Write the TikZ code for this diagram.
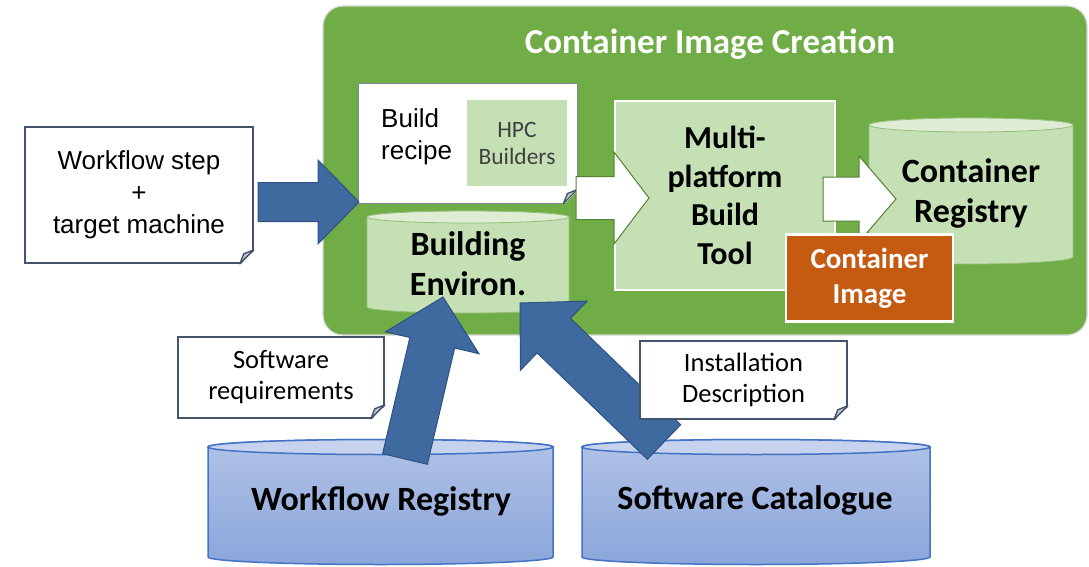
\documentclass[tikz,border=0pt]{standalone}
\usepackage{fontspec}
\setmainfont{Carlito}
\newfontfamily\arialfont{Liberation Sans}
\usetikzlibrary{calc}

\definecolor{panelgreen}{RGB}{112,173,71}
\definecolor{palegreen}{RGB}{197,224,180}
\definecolor{palegreentop}{RGB}{222,237,212}
\definecolor{cylgreenedge}{RGB}{150,190,120}
\definecolor{rust}{RGB}{197,90,17}
\definecolor{arrowblue}{RGB}{62,106,160}
\definecolor{arrowblueedge}{RGB}{47,82,130}
\definecolor{drumtop}{RGB}{199,211,238}
\definecolor{drumhigh}{RGB}{176,194,230}
\definecolor{drumlow}{RGB}{140,166,219}
\definecolor{drumedge}{RGB}{68,114,196}
\definecolor{slate}{RGB}{68,84,106}
\definecolor{flapgray}{RGB}{190,196,206}
\definecolor{arrowgreenedge}{RGB}{84,130,53}
\definecolor{labelgray}{RGB}{64,64,64}

% cylinder: centre x, top y, bottom y, x radius, y radius, body style, lid style
\newcommand\drum[7]{%
  \path[#6] ({#1-#4},{-#2}) -- ({#1-#4},{-#3})
    arc[start angle=180,end angle=360,x radius=#4,y radius=#5]
    -- ({#1+#4},{-#2})
    arc[start angle=0,end angle=180,x radius=#4,y radius=#5] -- cycle;
  \path[#7] (#1,{-#2}) ellipse[x radius=#4,y radius=#5];
}

% block arrow: style, tail, tip, shaft half width, head half width, head length
\newcommand\blockarrow[6]{%
  \path[#1] ($(#2)!#4!90:(#3)$)
    -- ($(#3)!#6!(#2)!#4!-90:(#2)$)
    -- ($(#3)!#6!(#2)!#5!-90:(#2)$)
    -- (#3)
    -- ($(#3)!#6!(#2)!#5!90:(#2)$)
    -- ($(#3)!#6!(#2)!#4!90:(#2)$)
    -- ($(#2)!#4!-90:(#3)$) -- cycle;
}

% folded corner of a note: node, colour behind the cut corner
\newcommand\noteear[2]{%
  \fill[#2] ([xshift=-14pt,yshift=-1.6pt]#1.south east) -- ([xshift=1.6pt,yshift=-1.6pt]#1.south east)
    -- ([xshift=1.6pt,yshift=14pt]#1.south east) -- cycle;
  \draw[slate,line width=1.4pt,line join=round,fill=flapgray]
    ([xshift=-14pt]#1.south east) -- ([yshift=14pt]#1.south east)
    -- ([xshift=-10pt,yshift=10pt]#1.south east) -- cycle;
}

\tikzset{
  notebox/.style={draw=slate, line width=1.6pt, fill=white, inner sep=0pt, align=center,
    font=\fontsize{26.5}{31}\selectfont},
  whitearrow/.style={fill=white, draw=arrowgreenedge, line width=1pt, line join=miter},
  bluearrow/.style={fill=arrowblue, draw=arrowblueedge, line width=1pt},
  boldlabel/.style={align=center, font=\bfseries\fontsize{34}{40}\selectfont},
  greendrum/.style={fill=palegreen, draw=cylgreenedge, line width=0.8pt},
  greenlid/.style={fill=palegreentop, draw=cylgreenedge, line width=0.8pt},
  bluedrum/.style={top color=drumhigh, bottom color=drumlow, draw=drumedge, line width=1.5pt},
  bluelid/.style={fill=drumtop, draw=drumedge, line width=1.5pt},
}

\begin{document}
\begin{tikzpicture}[x=1pt,y=1pt]
\useasboundingbox (0,0) rectangle (1089,-567);
\fill[white] (0,0) rectangle (1089,-567);

% container image creation panel
\node[draw=black!15, line width=1.2pt, fill=panelgreen, rounded corners=20pt,
  minimum width=764pt, minimum height=329pt, inner sep=0pt] (panel) at (705,-170.5) {};
\node[text=white, font=\bfseries\fontsize{35}{40}\selectfont] (title) at (710,-44) {Container Image Creation};

% build recipe with HPC builders
\node[notebox, draw=slate!70, line width=1pt, minimum width=219pt, minimum height=119pt] (recipe) at (467.5,-143.5) {};
\noteear{recipe}{panelgreen}
\node[anchor=west, align=left, inner sep=0pt, font=\arialfont\fontsize{26}{32}\selectfont] (recipetext) at (381,-137) {Build\\recipe};
\node[fill=palegreen, minimum width=100pt, minimum height=86pt, inner sep=0pt, align=center,
  text=labelgray, font=\fontsize{23.5}{27}\selectfont] (hpc) at (517,-143) {HPC\\Builders};

% building environment
\drum{468}{217}{307}{101}{6}{greendrum}{greenlid}
\node[boldlabel] (benv) at (468,-264) {Building\\Environ.};

% multi-platform build tool
\node[fill=palegreen, draw=white, line width=2pt, minimum width=220pt, minimum height=189pt, inner sep=0pt,
  boldlabel, font=\bfseries\fontsize{32}{38.5}\selectfont] (mbt) at (725,-195.5) {Multi-\\platform\\Build\\Tool};

\coordinate (a1tail) at (576,-198);
\coordinate (a1tip) at (649,-198);
\blockarrow{whitearrow}{a1tail}{a1tip}{21.5pt}{46pt}{35pt}

% container registry
\drum{971}{125}{257}{102}{7}{greendrum}{greenlid}
\node[boldlabel] (creg) at (971,-193) {Container\\Registry};

\coordinate (a2tail) at (823,-199);
\coordinate (a2tip) at (896,-199);
\blockarrow{whitearrow}{a2tail}{a2tip}{22pt}{43pt}{37pt}

\node[fill=rust, draw=white, line width=2.5pt, minimum width=167pt, minimum height=87pt, inner sep=0pt,
  text=white, align=center, font=\bfseries\fontsize{29}{35}\selectfont] (cimg) at (869.5,-278) {Container\\Image};

% workflow step input
\node[notebox, minimum width=228pt, minimum height=136pt, font=\arialfont\fontsize{26}{32}\selectfont] (wstep) at (139,-195) {Workflow step\\+\\target machine};
\noteear{wstep}{white}

\coordinate (a0tail) at (258,-202);
\coordinate (a0tip) at (359,-202);
\blockarrow{bluearrow}{a0tail}{a0tip}{19.5pt}{42pt}{41pt}

% registries at the bottom
\drum{380.5}{447}{557}{172.5}{7.5}{bluedrum}{bluelid}
\node[boldlabel] (wreg) at (381,-501) {Workflow Registry};
\drum{756}{447}{557}{174}{7.5}{bluedrum}{bluelid}
\node[boldlabel] (scat) at (755,-500) {Software Catalogue};

\coordinate (aAtail) at (405,-459);
\coordinate (aAtip) at (443,-297);
\blockarrow{bluearrow}{aAtail}{aAtip}{23pt}{48pt}{47pt}

\coordinate (aBtail) at (664,-442);
\coordinate (aBtip) at (520,-303);
\blockarrow{bluearrow}{aBtail}{aBtip}{24pt}{48pt}{47pt}

% labels on the arrows
\node[notebox, minimum width=206pt, minimum height=81pt] (swreq) at (281,-377.5) {Software\\requirements};
\noteear{swreq}{white}
\node[notebox, minimum width=207pt, minimum height=78pt] (instd) at (743.5,-380) {Installation\\Description};
\noteear{instd}{white}
\end{tikzpicture}
\end{document}
